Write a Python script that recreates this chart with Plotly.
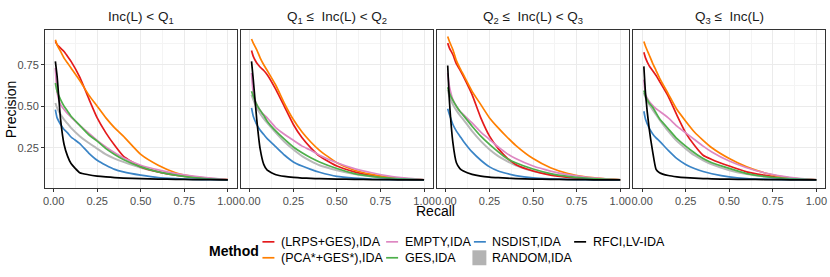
import plotly.graph_objects as go

# ---------------- data ----------------
recall = [0.01, 0.02, 0.04, 0.06, 0.08, 0.10, 0.15, 0.20, 0.25, 0.30, 0.35, 0.40, 0.50, 0.60, 0.70, 0.80, 0.90, 1.00]

panel_titles = ["Inc(L) < Q<sub>1</sub>",
                "Q<sub>1</sub> \u2264  Inc(L) < Q<sub>2</sub>",
                "Q<sub>2</sub> \u2264  Inc(L) < Q<sub>3</sub>",
                "Q<sub>3</sub> \u2264  Inc(L)"]

methods = ["(LRPS+GES),IDA", "(PCA*+GES*),IDA", "EMPTY,IDA", "GES,IDA",
           "NSDIST,IDA", "RANDOM,IDA", "RFCI,LV-IDA"]

# panel 1
p1_lrps   = [0.89, 0.87, 0.85, 0.83, 0.80, 0.77, 0.675, 0.55, 0.43, 0.34, 0.265, 0.20, 0.135, 0.105, 0.085, 0.072, 0.063, 0.057]
p1_pca    = [0.90, 0.87, 0.83, 0.79, 0.76, 0.73, 0.655, 0.57, 0.50, 0.43, 0.37, 0.32, 0.21, 0.145, 0.10, 0.077, 0.065, 0.058]
p1_empty  = [0.73, 0.58, 0.51, 0.48, 0.455, 0.435, 0.385, 0.34, 0.295, 0.255, 0.22, 0.19, 0.145, 0.117, 0.095, 0.08, 0.068, 0.058]
p1_ges    = [0.64, 0.59, 0.54, 0.50, 0.47, 0.44, 0.385, 0.33, 0.29, 0.245, 0.21, 0.18, 0.135, 0.105, 0.085, 0.07, 0.062, 0.057]
p1_nsdist = [0.48, 0.43, 0.39, 0.36, 0.34, 0.315, 0.275, 0.22, 0.175, 0.145, 0.12, 0.105, 0.085, 0.07, 0.064, 0.06, 0.058, 0.057]
p1_random = [0.52, 0.49, 0.45, 0.42, 0.395, 0.37, 0.32, 0.28, 0.245, 0.21, 0.185, 0.165, 0.13, 0.105, 0.087, 0.075, 0.065, 0.057]
p1_rfci   = [0.77, 0.68, 0.42, 0.27, 0.20, 0.155, 0.10, 0.088, 0.080, 0.075, 0.071, 0.068, 0.064, 0.062, 0.060, 0.059, 0.058, 0.057]

# panel 2
p2_lrps   = [0.835, 0.80, 0.76, 0.735, 0.715, 0.69, 0.60, 0.495, 0.39, 0.31, 0.25, 0.20, 0.14, 0.105, 0.082, 0.07, 0.062, 0.057]
p2_pca    = [0.905, 0.88, 0.84, 0.79, 0.75, 0.715, 0.625, 0.515, 0.42, 0.345, 0.285, 0.235, 0.16, 0.115, 0.09, 0.072, 0.063, 0.057]
p2_empty  = [0.70, 0.58, 0.51, 0.475, 0.45, 0.43, 0.37, 0.33, 0.295, 0.26, 0.235, 0.205, 0.16, 0.125, 0.10, 0.08, 0.067, 0.057]
p2_ges    = [0.59, 0.56, 0.51, 0.475, 0.445, 0.41, 0.35, 0.30, 0.255, 0.22, 0.19, 0.165, 0.125, 0.095, 0.078, 0.067, 0.061, 0.057]
p2_nsdist = [0.49, 0.44, 0.39, 0.355, 0.33, 0.305, 0.255, 0.205, 0.165, 0.14, 0.12, 0.103, 0.078, 0.068, 0.062, 0.059, 0.058, 0.057]
p2_random = [0.57, 0.54, 0.49, 0.455, 0.425, 0.40, 0.34, 0.285, 0.24, 0.20, 0.17, 0.145, 0.115, 0.092, 0.077, 0.066, 0.06, 0.057]
p2_rfci   = [0.77, 0.66, 0.42, 0.24, 0.15, 0.115, 0.088, 0.078, 0.072, 0.068, 0.066, 0.064, 0.062, 0.06, 0.059, 0.058, 0.057, 0.057]

# panel 3
p3_lrps   = [0.88, 0.85, 0.81, 0.755, 0.72, 0.68, 0.57, 0.43, 0.32, 0.245, 0.19, 0.15, 0.11, 0.085, 0.072, 0.065, 0.06, 0.057]
p3_pca    = [0.92, 0.89, 0.84, 0.775, 0.73, 0.69, 0.59, 0.51, 0.43, 0.37, 0.315, 0.265, 0.185, 0.13, 0.095, 0.075, 0.064, 0.057]
p3_empty  = [0.70, 0.62, 0.54, 0.50, 0.47, 0.45, 0.40, 0.345, 0.30, 0.255, 0.215, 0.185, 0.14, 0.11, 0.088, 0.073, 0.064, 0.057]
p3_ges    = [0.615, 0.58, 0.535, 0.50, 0.47, 0.445, 0.38, 0.32, 0.27, 0.225, 0.185, 0.16, 0.122, 0.095, 0.078, 0.067, 0.061, 0.057]
p3_nsdist = [0.485, 0.45, 0.39, 0.35, 0.32, 0.29, 0.225, 0.175, 0.135, 0.11, 0.095, 0.083, 0.069, 0.063, 0.06, 0.058, 0.057, 0.057]
p3_random = [0.60, 0.56, 0.51, 0.475, 0.445, 0.42, 0.35, 0.29, 0.24, 0.20, 0.17, 0.145, 0.11, 0.09, 0.075, 0.066, 0.06, 0.057]
p3_rfci   = [0.745, 0.53, 0.28, 0.16, 0.125, 0.11, 0.09, 0.08, 0.074, 0.07, 0.067, 0.065, 0.062, 0.06, 0.059, 0.058, 0.057, 0.057]

# panel 4
p4_lrps   = [0.825, 0.79, 0.745, 0.715, 0.685, 0.65, 0.56, 0.445, 0.34, 0.265, 0.205, 0.18, 0.14, 0.105, 0.085, 0.068, 0.061, 0.057]
p4_pca    = [0.89, 0.86, 0.81, 0.76, 0.715, 0.67, 0.575, 0.48, 0.41, 0.345, 0.295, 0.25, 0.185, 0.135, 0.10, 0.076, 0.063, 0.057]
p4_empty  = [0.66, 0.57, 0.53, 0.505, 0.485, 0.47, 0.43, 0.38, 0.34, 0.30, 0.26, 0.225, 0.17, 0.13, 0.10, 0.08, 0.066, 0.057]
p4_ges    = [0.595, 0.56, 0.52, 0.495, 0.46, 0.425, 0.365, 0.305, 0.26, 0.22, 0.185, 0.16, 0.126, 0.095, 0.078, 0.067, 0.061, 0.057]
p4_nsdist = [0.47, 0.42, 0.37, 0.335, 0.31, 0.29, 0.235, 0.185, 0.15, 0.125, 0.107, 0.094, 0.075, 0.065, 0.061, 0.059, 0.058, 0.057]
p4_random = [0.58, 0.55, 0.51, 0.48, 0.45, 0.42, 0.35, 0.29, 0.245, 0.205, 0.175, 0.15, 0.115, 0.092, 0.077, 0.066, 0.06, 0.057]
p4_rfci   = [0.74, 0.57, 0.37, 0.23, 0.12, 0.10, 0.083, 0.075, 0.07, 0.067, 0.065, 0.063, 0.061, 0.06, 0.059, 0.058, 0.057, 0.057]

x_ticks = [0.0, 0.25, 0.5, 0.75, 1.0]
x_tick_labels = ["0.00", "0.25", "0.50", "0.75", "1.00"]
y_ticks = [0.25, 0.5, 0.75]
y_tick_labels = ["0.25", "0.50", "0.75"]

panels = [
    [p1_lrps, p1_pca, p1_empty, p1_ges, p1_nsdist, p1_random, p1_rfci],
    [p2_lrps, p2_pca, p2_empty, p2_ges, p2_nsdist, p2_random, p2_rfci],
    [p3_lrps, p3_pca, p3_empty, p3_ges, p3_nsdist, p3_random, p3_rfci],
    [p4_lrps, p4_pca, p4_empty, p4_ges, p4_nsdist, p4_random, p4_rfci],
]

colors = {"(LRPS+GES),IDA": "#E41A1C", "(PCA*+GES*),IDA": "#FF7F00",
          "EMPTY,IDA": "#DE87C2", "GES,IDA": "#4DAF4A", "NSDIST,IDA": "#3A84C6",
          "RANDOM,IDA": "#B8B8B8", "RFCI,LV-IDA": "#000000"}
draw_order = [5, 0, 1, 2, 3, 4, 6]

# ---------------- layout geometry ----------------
W, H = 830, 277
L, R, T, B = 45, 3, 29.5, 89
PW = W - L - R
PH = H - T - B
panel_w = 192.0
gap = (PW - 4 * panel_w) / 3.0

def px2x(px):
    return (px - L) / PW

def py2y(py):
    return (H - B - py) / PH

FONT = "Liberation Sans, Arial, Helvetica, sans-serif"

fig = go.Figure()

for pi in range(4):
    xa = "x" if pi == 0 else f"x{pi+1}"
    ya = "y" if pi == 0 else f"y{pi+1}"
    for si in draw_order:
        m = methods[si]
        fig.add_trace(go.Scatter(
            x=recall, y=panels[pi][si], mode="lines",
            line=dict(color=colors[m], width=1.7 if si != 5 else 2.0,
                      shape="spline", smoothing=0.5),
            xaxis=xa, yaxis=ya, showlegend=False, hoverinfo="skip"))

axis_common = dict(
    showline=True, mirror=True, linecolor="#333333", linewidth=1,
    showgrid=True, gridcolor="#EBEBEB", gridwidth=1,
    zeroline=False, ticks="outside", ticklen=3, tickcolor="#333333", tickwidth=1,
    tickfont=dict(family=FONT, size=11, color="#4D4D4D"),
)

layout = dict(
    width=W, height=H, margin=dict(l=L, r=R, t=T, b=B, pad=0),
    plot_bgcolor="white", paper_bgcolor="white", showlegend=False,
    font=dict(family=FONT),
)

for pi in range(4):
    x0 = L + pi * (panel_w + gap)
    dom = [px2x(x0), px2x(x0 + panel_w)]
    xk = "xaxis" if pi == 0 else f"xaxis{pi+1}"
    yk = "yaxis" if pi == 0 else f"yaxis{pi+1}"
    xanchor = "y" if pi == 0 else f"y{pi+1}"
    yanchor = "x" if pi == 0 else f"x{pi+1}"
    layout[xk] = dict(axis_common, domain=dom, anchor=xanchor, range=[-0.0495, 1.0495],
                      tickvals=x_ticks, ticktext=x_tick_labels,
                      minor=dict(tickvals=[0.125, 0.375, 0.625, 0.875], showgrid=True,
                                 gridcolor="#F4F4F4", gridwidth=0.6, ticks=""))
    ydict = dict(axis_common, domain=[0, 1], anchor=yanchor, range=[0.008, 0.959],
                 tickvals=y_ticks, ticktext=y_tick_labels,
                 minor=dict(tickvals=[0.125, 0.375, 0.625, 0.875], showgrid=True,
                            gridcolor="#F4F4F4", gridwidth=0.6, ticks=""))
    if pi > 0:
        ydict["showticklabels"] = False
        ydict["ticks"] = ""
    layout[yk] = ydict

fig.update_layout(**layout)

annotations = []
shapes = []
# panel titles
for pi in range(4):
    x0 = L + pi * (panel_w + gap)
    annotations.append(dict(x=px2x(x0 + panel_w / 2), y=py2y(17), xref="paper", yref="paper",
                            text=panel_titles[pi], showarrow=False,
                            font=dict(family=FONT, size=13.5, color="#1A1A1A"),
                            xanchor="center", yanchor="middle"))
# axis titles
annotations.append(dict(x=px2x(11), y=py2y(109), xref="paper", yref="paper", text="Precision",
                        textangle=-90, showarrow=False, font=dict(family=FONT, size=14, color="black"),
                        xanchor="center", yanchor="middle"))
annotations.append(dict(x=px2x(L + PW / 2), y=py2y(211), xref="paper", yref="paper", text="Recall",
                        showarrow=False, font=dict(family=FONT, size=14, color="black"),
                        xanchor="center", yanchor="middle"))

# legend (manual)
annotations.append(dict(x=px2x(207), y=py2y(251), xref="paper", yref="paper", text="<b>Method</b>",
                        showarrow=False, font=dict(family=FONT, size=14, color="black"),
                        xanchor="left", yanchor="middle"))
legend_slots = {  # method: (swatch left px, row y px)
    "(LRPS+GES),IDA": (263, 242), "(PCA*+GES*),IDA": (263, 258),
    "EMPTY,IDA": (387, 242), "GES,IDA": (387, 258),
    "NSDIST,IDA": (475, 242), "RANDOM,IDA": (475, 258),
    "RFCI,LV-IDA": (575.5, 242),
}
for m, (sx, sy) in legend_slots.items():
    if m == "RANDOM,IDA":
        shapes.append(dict(type="rect", xref="paper", yref="paper",
                           x0=px2x(sx - 1.5), x1=px2x(sx + 12.5), y0=py2y(sy + 7.5), y1=py2y(sy - 7.5),
                           fillcolor="#B3B3B3", line=dict(width=0)))
    else:
        shapes.append(dict(type="line", xref="paper", yref="paper",
                           x0=px2x(sx), x1=px2x(sx + 12), y0=py2y(sy), y1=py2y(sy),
                           line=dict(color=colors[m], width=1.7)))
    annotations.append(dict(x=px2x(sx + 16.5), y=py2y(sy), xref="paper", yref="paper", text=m,
                            showarrow=False, font=dict(family=FONT, size=12.5, color="black"),
                            xanchor="left", yanchor="middle"))

fig.update_layout(annotations=annotations, shapes=shapes)
fig.write_html("out.html", config={"displayModeBar": False},
               post_script="document.body.style.margin='0px';document.body.style.padding='0px';")
